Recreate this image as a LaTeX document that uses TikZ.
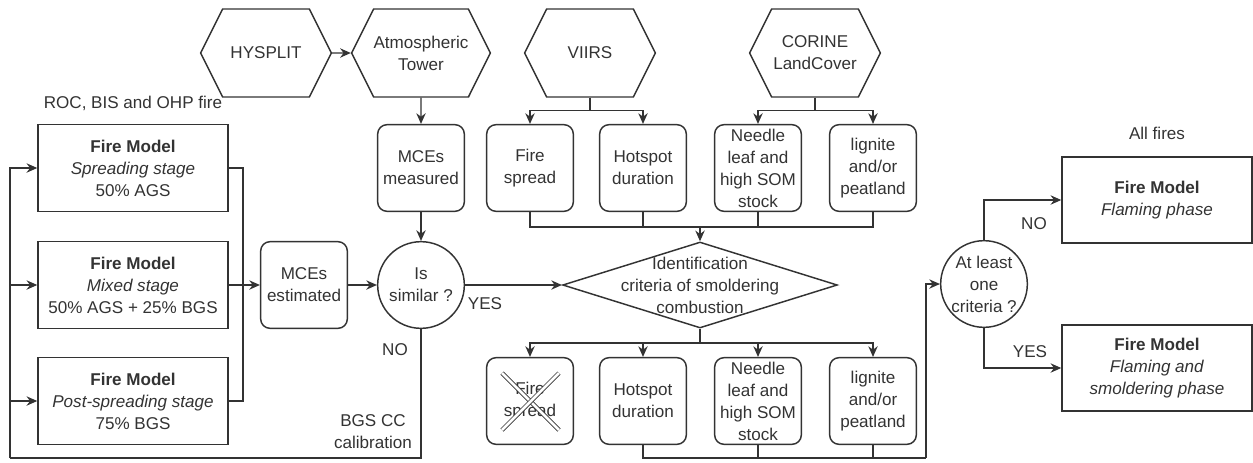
\documentclass[tikz,border=0pt]{standalone}
\usepackage{fontspec}
\setmainfont{Liberation Sans}
\usetikzlibrary{shapes.geometric,shapes.symbols,arrows.meta}
\definecolor{ink}{HTML}{333333}
\tikzset{
  every node/.style={text=ink, font=\fontsize{12.8}{16.5}\selectfont, align=center},
  line/.style={draw=ink, line width=1.1pt},
  arr/.style={line, -{Stealth[length=8pt,width=7pt]}},
  hexa/.style={line, signal, signal to=west and east, signal pointer angle=127,
    minimum width=98pt, minimum height=66pt, inner sep=0pt},
  rbox/.style={line, rectangle, rounded corners=7pt, minimum width=65pt,
    minimum height=65pt, inner sep=1pt},
  model/.style={line, rectangle, minimum width=142.5pt, minimum height=65pt},
  decide/.style={line, circle, minimum size=65pt, inner sep=0pt},
  crossout/.style={draw=ink, line width=0.6pt, double=white, double distance=2pt}
}
\begin{document}
\begin{tikzpicture}[x=0.75pt,y=-0.75pt]
  \useasboundingbox (0,0) rectangle (1253,462);
  % sources
  \node[hexa] (hysplit) at (266,53) {HYSPLIT};
  \node[hexa] (tower) at (421,53) {Atmospheric\\Tower};
  \node[hexa] (viirs) at (590,53) {VIIRS};
  \node[hexa] (corine) at (815,53) {CORINE\\LandCover};
  % fire models
  \node (roc) at (133,103) {ROC, BIS and OHP fire};
  \node[model] (fm1) at (133,168) {\textbf{Fire Model}\\\textit{Spreading stage}\\50\% AGS};
  \node[model] (fm2) at (133,285) {\textbf{Fire Model}\\\textit{Mixed stage}\\50\% AGS + 25\% BGS};
  \node[model] (fm3) at (133,401) {\textbf{Fire Model}\\\textit{Post-spreading stage}\\75\% BGS};
  \node[rbox] (mcee) at (304,285) {MCEs\\estimated};
  \node[rbox] (mcem) at (421,168) {MCEs\\measured};
  \node[decide] (similar) at (421,285) {Is\\similar ?};
  % criteria
  \node[rbox] (tfire) at (530,168) {Fire\\spread};
  \node[rbox] (thot) at (643,168) {Hotspot\\duration};
  \node[rbox] (tneed) at (758,168) {Needle\\leaf and\\high SOM\\stock};
  \node[rbox] (tlig) at (873,168) {lignite\\and/or\\peatland};
  \node[line, diamond, aspect=3.2, minimum width=206pt, minimum height=64.5pt, inner sep=0pt,
    label={center:Identification\\criteria of smoldering\\combustion}] (crit) at (700,285) {};
  \node[rbox] (bfire) at (530,401) {Fire\\spread};
  \node[rbox] (bhot) at (643,401) {Hotspot\\duration};
  \node[rbox] (bneed) at (758,401) {Needle\\leaf and\\high SOM\\stock};
  \node[rbox] (blig) at (873,401) {lignite\\and/or\\peatland};
  \draw[crossout] (bfire.center) +(-28,-28) -- +(29,29);
  \draw[crossout] (bfire.center) +(-28,29) -- +(29,-28);
  % outputs
  \node[decide] (crit2) at (984,284) {At least\\one\\criteria ?};
  \node (allf) at (1157,133) {All fires};
  \node[model, minimum height=64.5pt] (flam) at (1157,200) {\textbf{Fire Model}\\\textit{Flaming phase}};
  \node[model, minimum height=64.5pt] (smol) at (1157,368) {\textbf{Fire Model}\\\textit{Flaming and}\\\textit{smoldering phase}};
  % junctions
  \coordinate (jl) at (243,285);
  \coordinate (jn) at (10,458);
  \coordinate (jt) at (700,227);
  \coordinate (jb) at (700,343);
  \coordinate (jr) at (926,458);
  % connectors
  \draw[arr] (hysplit) -- (tower);
  \draw[arr] (tower) -- (mcem);
  \draw[arr] (mcem) -- (similar);
  \draw[arr] (viirs.south) -- ++(0,13) -| (tfire.north);
  \draw[arr] (viirs.south) -- ++(0,13) -| (thot.north);
  \draw[arr] (corine.south) -- ++(0,13) -| (tneed.north);
  \draw[arr] (corine.south) -- ++(0,13) -| (tlig.north);
  \draw[line] (tfire.south) |- (jt);
  \draw[line] (tlig.south) |- (jt);
  \draw[line] (thot.south) -- (thot.south |- jt);
  \draw[line] (tneed.south) -- (tneed.south |- jt);
  \draw[arr] (jt) -- (crit.north);
  \draw[line] (crit.south) -- (jb);
  \draw[arr] (jb) -| (bfire.north);
  \draw[arr] (jb) -| (bhot.north);
  \draw[arr] (jb) -| (bneed.north);
  \draw[arr] (jb) -| (blig.north);
  \draw[line] (bhot.south) |- (jr);
  \draw[line] (bneed.south) -- (bneed.south |- jr);
  \draw[line] (blig.south) -- (blig.south |- jr);
  \draw[arr] (jr) |- (crit2.west);
  \draw[line] (fm1.east) -| (jl);
  \draw[line] (fm3.east) -| (jl);
  \draw[arr] (fm2.east) -- (mcee.west);
  \draw[arr] (mcee) -- (similar);
  \draw[arr] (similar) -- (crit);
  \node (yes1) at (485,304) {YES};
  \draw[line] (similar.south) |- (jn);
  \draw[arr] (jn) |- (fm1.west);
  \draw[arr] (jn |- fm2.west) -- (fm2.west);
  \draw[arr] (jn |- fm3.west) -- (fm3.west);
  \node (no1) at (395,350) {NO};
  \node (bgs) at (373,432) {BGS CC\\calibration};
  \draw[arr] (crit2.north) |- (flam.west);
  \draw[arr] (crit2.south) |- (smol.west);
  \node (no2) at (1034,224) {NO};
  \node (yes2) at (1030,352) {YES};
\end{tikzpicture}
\end{document}
